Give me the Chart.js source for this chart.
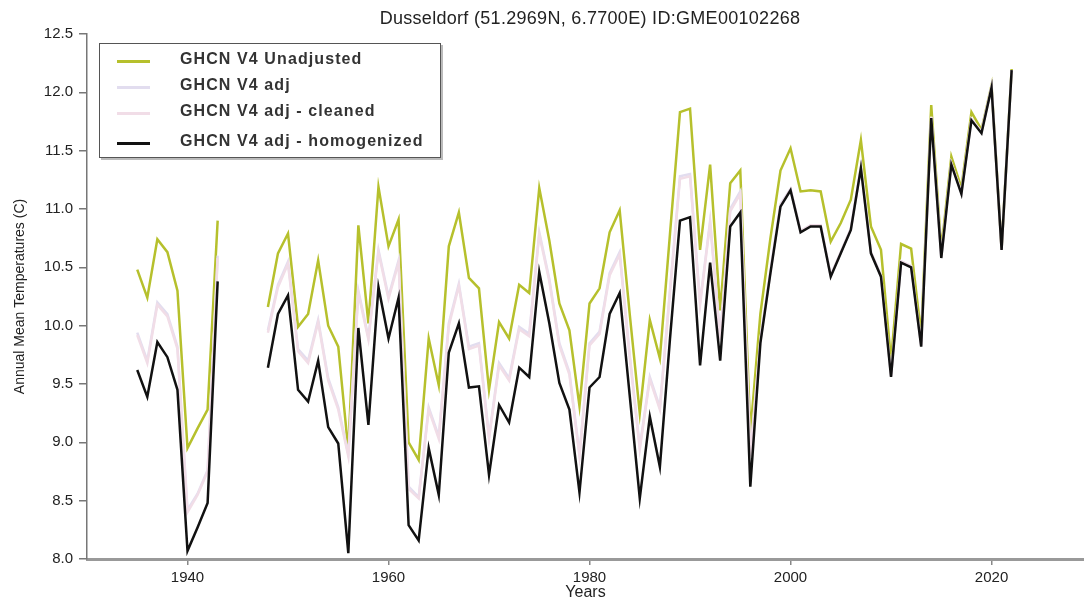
<!DOCTYPE html>
<html>
<head>
<meta charset="utf-8">
<script src="https://cdn.jsdelivr.net/npm/chart.js@4.4.1/dist/chart.umd.min.js"></script>
<style>
    body { margin: 0; background: #fff; }
    #caixa { position: relative; width: 1084px; height: 601px; }
    #titulo {
        position: absolute; top: 8px; left: 0; width: 1180px; text-align: center;
        font: 18px "Liberation Sans", Arial, sans-serif; letter-spacing: 0.3px; color: #222;
    }
    #legenda {
        position: absolute; left: 99px; top: 43px; width: 340px; height: 113px;
        border: 1.5px solid #555; background: #fff; box-shadow: 2px 2px 0 #bbb;
    }
    .item { position: absolute; left: 0; height: 20px; }
    .amostra { position: absolute; left: 17px; top: 9px; width: 33px; height: 2.5px; }
    .nome {
        position: absolute; left: 80px; top: -1px; white-space: nowrap;
        font: bold 16px "Liberation Sans", Arial, sans-serif; letter-spacing: 1.1px; color: #333;
    }
</style>
</head>
<body>
<div id="caixa">
    <canvas id="graficoTemp" width="1084" height="601"></canvas>
    <div id="titulo">Dusseldorf (51.2969N, 6.7700E) ID:GME00102268</div>
    <div id="legenda"></div>
</div>
<script>
// Anos e series
const anos = [1935, 1936, 1937, 1938, 1939, 1940, 1941, 1942, 1943, 1944, 1945, 1946, 1947,
    1948, 1949, 1950, 1951, 1952, 1953, 1954, 1955, 1956, 1957, 1958, 1959,
    1960, 1961, 1962, 1963, 1964, 1965, 1966, 1967, 1968, 1969,
    1970, 1971, 1972, 1973, 1974, 1975, 1976, 1977, 1978, 1979,
    1980, 1981, 1982, 1983, 1984, 1985, 1986, 1987, 1988, 1989,
    1990, 1991, 1992, 1993, 1994, 1995, 1996, 1997, 1998, 1999,
    2000, 2001, 2002, 2003, 2004, 2005, 2006, 2007, 2008, 2009,
    2010, 2011, 2012, 2013, 2014, 2015, 2016, 2017, 2018, 2019,
    2020, 2021, 2022];

const naoAjustado = [10.48, 10.24, 10.74, 10.63, 10.30, 8.95, 9.12, 9.28, 10.90, null, null, null, null,
    10.16, 10.62, 10.79, 9.99, 10.10, 10.56, 10.00, 9.82, 8.93, 10.86, 10.02, 11.19,
    10.68, 10.91, 9.00, 8.85, 9.89, 9.49, 10.68, 10.97, 10.41, 10.32,
    9.45, 10.03, 9.89, 10.35, 10.28, 11.18, 10.73, 10.19, 9.96, 9.31,
    10.19, 10.32, 10.80, 10.99, 10.10, 9.25, 10.05, 9.72, 10.78, 11.83,
    11.86, 10.65, 11.38, 10.13, 11.22, 11.33, 9.08, 10.10, 10.75, 11.33,
    11.52, 11.15, 11.16, 11.15, 10.72, 10.88, 11.08, 11.59, 10.85, 10.65,
    9.70, 10.70, 10.66, 9.92, 11.89, 10.65, 11.45, 11.18, 11.83, 11.68,
    12.06, 10.66, 12.20];

const ajustado = [9.94, 9.70, 10.20, 10.10, 9.82, 8.42, 8.56, 8.76, 10.60, null, null, null, null,
    9.96, 10.35, 10.55, 9.80, 9.70, 10.05, 9.55, 9.30, 8.90, 10.30, 9.90, 10.65,
    10.25, 10.56, 8.62, 8.53, 9.30, 9.05, 10.02, 10.36, 9.82, 9.85,
    9.05, 9.68, 9.55, 9.99, 9.93, 10.80, 10.40, 9.85, 9.60, 8.90,
    9.85, 9.95, 10.45, 10.63, 9.75, 8.96, 9.56, 9.30, 10.30, 11.28,
    11.30, 10.20, 10.90, 9.90, 11.00, 11.15, 8.90, 9.88, 10.47, 11.04,
    11.17, 10.81, 10.86, 10.86, 10.43, 10.63, 10.83, 11.36, 10.63, 10.43,
    9.57, 10.55, 10.51, 9.83, 11.79, 10.59, 11.39, 11.14, 11.77, 11.66,
    12.05, 10.65, 12.19];

const limpo = [9.92, 9.68, 10.18, 10.08, 9.80, 8.40, 8.55, 8.75, 10.58, null, null, null, null,
    9.94, 10.33, 10.53, 9.78, 9.68, 10.03, 9.53, 9.28, 8.88, 10.28, 9.88, 10.63,
    10.23, 10.54, 8.60, 8.52, 9.28, 9.03, 10.00, 10.34, 9.80, 9.83,
    9.03, 9.66, 9.53, 9.97, 9.91, 10.78, 10.38, 9.83, 9.58, 8.88,
    9.83, 9.93, 10.43, 10.61, 9.73, 8.94, 9.54, 9.28, 10.28, 11.26,
    11.28, 10.18, 10.88, 9.88, 10.98, 11.13, 8.88, 9.87, 10.46, 11.03,
    11.17, 10.81, 10.86, 10.86, 10.43, 10.63, 10.83, 11.36, 10.63, 10.43,
    9.57, 10.55, 10.51, 9.83, 11.79, 10.59, 11.39, 11.14, 11.77, 11.66,
    12.05, 10.65, 12.19];

const homogeneizado = [9.62, 9.39, 9.86, 9.73, 9.45, 8.07, 8.27, 8.48, 10.38, null, null, null, null,
    9.64, 10.10, 10.26, 9.45, 9.35, 9.70, 9.13, 8.99, 8.05, 9.98, 9.15, 10.33,
    9.89, 10.24, 8.29, 8.16, 8.95, 8.55, 9.77, 10.02, 9.47, 9.48,
    8.72, 9.32, 9.17, 9.64, 9.56, 10.46, 10.02, 9.51, 9.28, 8.57,
    9.47, 9.56, 10.10, 10.28, 9.40, 8.52, 9.22, 8.79, 9.88, 10.90,
    10.93, 9.66, 10.54, 9.70, 10.85, 10.97, 8.62, 9.85, 10.45, 11.02,
    11.16, 10.80, 10.85, 10.85, 10.42, 10.62, 10.82, 11.35, 10.62, 10.42,
    9.56, 10.54, 10.50, 9.82, 11.78, 10.58, 11.38, 11.13, 11.76, 11.65,
    12.04, 10.65, 12.19];

const nomesSeries = ['GHCN V4 Unadjusted', 'GHCN V4 adj', 'GHCN V4 adj - cleaned', 'GHCN V4 adj - homogenized'];
const coresSeries = ['#b6c02c', '#e2ddef', '#f1dde7', '#111111'];
const valoresSeries = [naoAjustado, ajustado, limpo, homogeneizado];
const ticksY = [8.0, 8.5, 9.0, 9.5, 10.0, 10.5, 11.0, 11.5, 12.0, 12.5];

const fonteEixo = '"Liberation Sans", Arial, sans-serif';

document.addEventListener("DOMContentLoaded", () => {
    // Legenda em HTML
    const legenda = document.getElementById('legenda');
    const posicoes = [7, 33, 59, 89];
    nomesSeries.forEach((nome, i) => {
        const item = document.createElement('div');
        item.className = 'item';
        item.style.top = posicoes[i] + 'px';
        const amostra = document.createElement('div');
        amostra.className = 'amostra';
        amostra.style.backgroundColor = coresSeries[i];
        const texto = document.createElement('span');
        texto.className = 'nome';
        texto.textContent = nome;
        item.appendChild(amostra);
        item.appendChild(texto);
        legenda.appendChild(item);
    });

    gerarGrafico();
});

function gerarGrafico() {
    const datasets = valoresSeries.map((valores, i) => ({
        label: nomesSeries[i],
        data: anos.map((ano, j) => ({ x: ano, y: valores[j] })),
        borderColor: coresSeries[i],
        borderWidth: 2.5,
        pointRadius: 0,
        tension: 0,
        spanGaps: false,
        order: 3 - i // preto por cima
    }));

    const ctx = document.getElementById('graficoTemp').getContext('2d');
    new Chart(ctx, {
        type: 'line',
        data: { datasets: datasets },
        options: {
            responsive: false,
            animation: false,
            layout: { padding: { top: 34, right: 0, left: 0, bottom: 0 } },
            plugins: {
                legend: { display: false },
                tooltip: { enabled: false }
            },
            scales: {
                x: {
                    type: 'linear',
                    min: 1930,
                    max: 2029.2,
                    ticks: {
                        stepSize: 20,
                        includeBounds: false,
                        callback: v => String(v),
                        font: { family: fonteEixo, size: 15 },
                        color: '#222',
                        padding: 4,
                        maxRotation: 0
                    },
                    grid: { drawOnChartArea: false, drawTicks: true, tickLength: 6, color: '#888', lineWidth: 1.5 },
                    border: { display: true, color: '#999', width: 3 },
                    title: { display: true, text: 'Years', font: { family: fonteEixo, size: 16, lineHeight: 1 }, color: '#222', padding: 0 },
                    afterFit: s => { s.height = 42; }
                },
                y: {
                    min: 8,
                    max: 12.5,
                    afterBuildTicks: s => { s.ticks = ticksY.map(v => ({ value: v })); },
                    ticks: {
                        callback: v => Number(v).toFixed(1),
                        font: { family: fonteEixo, size: 15 },
                        color: '#222',
                        padding: 6
                    },
                    grid: { drawOnChartArea: false, drawTicks: true, tickLength: 8, color: '#777', lineWidth: 1.5 },
                    border: { display: true, color: '#777', width: 1.5 },
                    title: { display: true, text: 'Annual Mean Temperatures (C)', font: { family: fonteEixo, size: 14 }, color: '#222', padding: { top: 12, bottom: 0 } },
                    afterFit: s => { s.width = 87; }
                }
            }
        }
    });
}
</script>
</body>
</html>
